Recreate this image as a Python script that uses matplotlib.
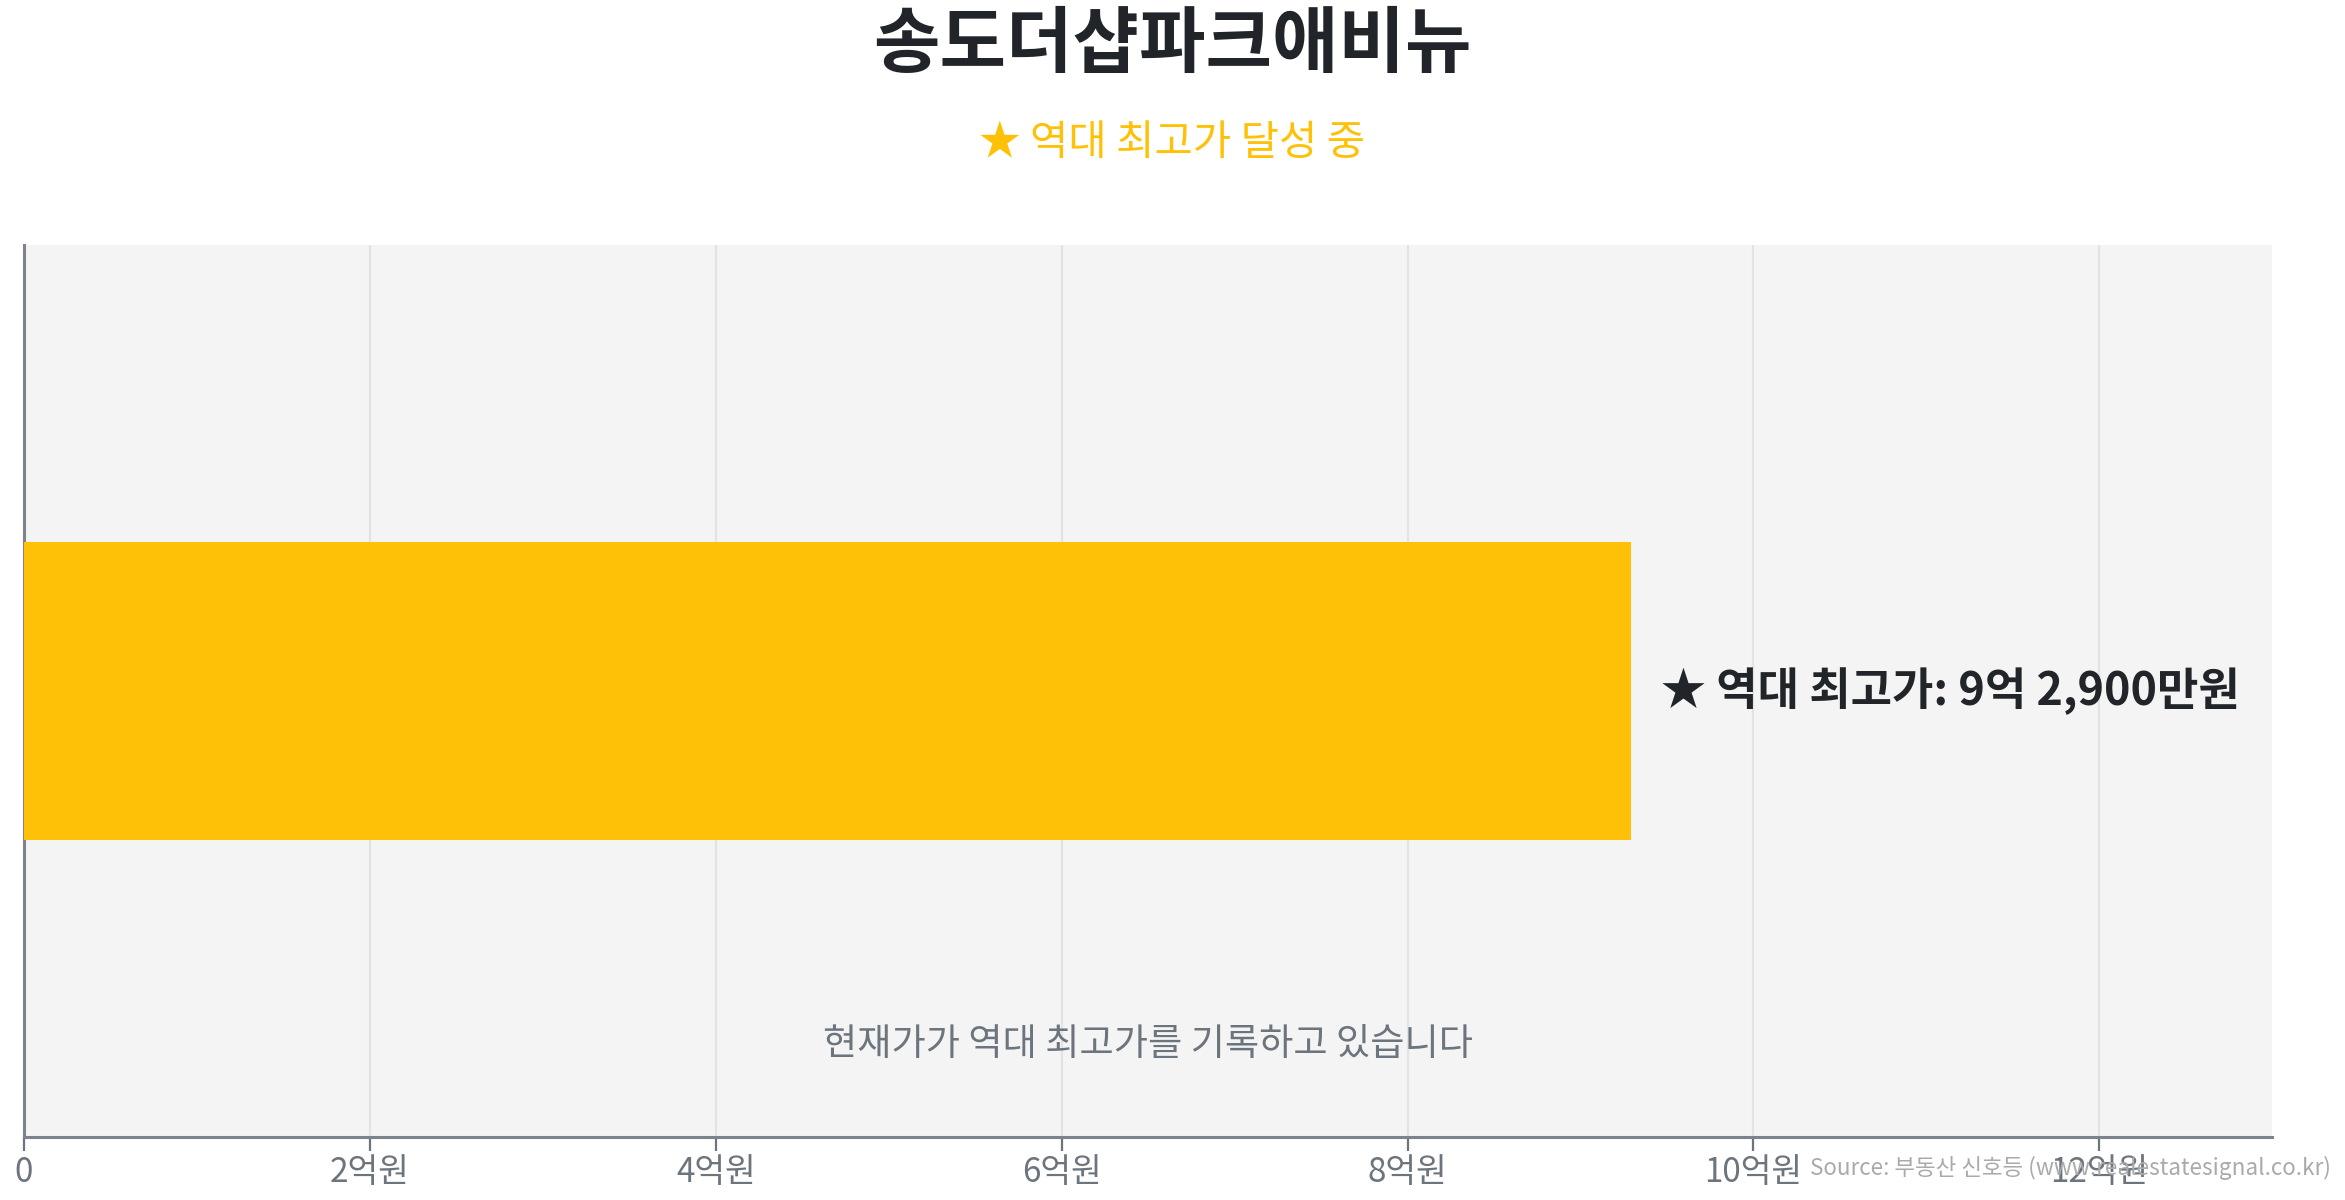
import matplotlib
matplotlib.use("Agg")
import matplotlib.pyplot as plt

plt.rcParams["font.family"] = ["Noto Sans CJK KR", "DejaVu Sans"]

# ── data ──────────────────────────────────────────────────────────────────
apt_name    = "송도더샵파크애비뉴"
categories  = ["송도더샵파크애비뉴"]
record_high = [9.29]               # 억원 (9억 2,900만원)
record_lbl  = "9억 2,900만원"
xticks      = [0, 2, 4, 6, 8, 10, 12]
xtick_lbls  = ["0", "2억원", "4억원", "6억원", "8억원", "10억원", "12억원"]

AMBER = "#FFC107"
DARK  = "#212529"
GRAY  = "#6c757d"

fig = plt.figure(figsize=(11.725, 6), dpi=200)
ax = fig.add_axes([0.0102, 0.0525, 0.9588, 0.7435])
ax.set_facecolor("#f4f4f4")

ax.barh(categories, record_high, height=1.0, color=AMBER, zorder=3)
ax.set_xlim(0, 13)
ax.set_ylim(-1.5, 1.5)

ax.set_xticks(xticks)
ax.set_xticklabels(xtick_lbls, fontsize=12, color=GRAY)
ax.set_yticks([])
ax.tick_params(axis="x", length=5, width=0.8, color=GRAY, pad=1.5)
ax.grid(axis="x", color="#e3e3e3", linewidth=0.8, zorder=0)
for s in ("top", "right"):
    ax.spines[s].set_visible(False)
for s in ("left", "bottom"):
    ax.spines[s].set_color("#7d838c")
    ax.spines[s].set_linewidth(1.1)

ax.annotate(f"★ 역대 최고가: {record_lbl}", xy=(record_high[0], 0),
            xytext=(11, 0), textcoords="offset points",
            ha="left", va="center", fontsize=16.2, fontweight="bold",
            color=DARK, zorder=4)

ax.text(0.5, 0.104, "현재가가 역대 최고가를 기록하고 있습니다",
        transform=ax.transAxes, ha="center", va="center",
        fontsize=13.4, color=GRAY)

fig.text(0.5, 0.962, apt_name, ha="center", va="center",
         fontsize=26, fontweight="bold", color=DARK)
fig.text(0.5, 0.880, "★ 역대 최고가 달성 중", ha="center", va="center",
         fontsize=15, color=AMBER)
fig.text(0.994, 0.027, "Source: 부동산 신호등 (www.realestatesignal.co.kr)",
         ha="right", va="center", fontsize=8.1, color="#aaaaaa")

fig.savefig("out.png", dpi=200)
